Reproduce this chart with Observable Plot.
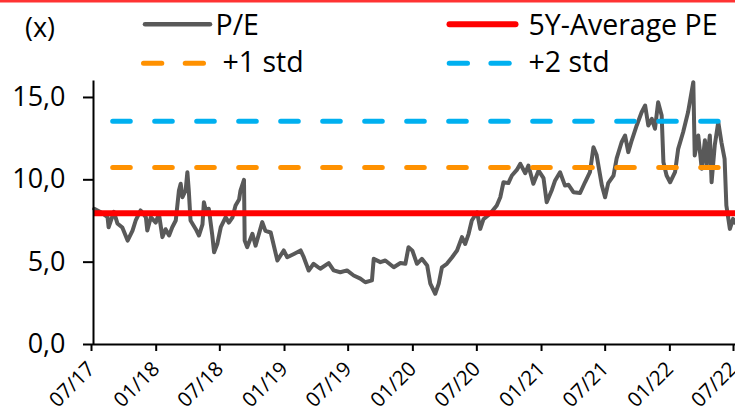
<!DOCTYPE html>
<html>
<head>
<meta charset="utf-8">
<script src="https://cdn.jsdelivr.net/npm/d3@7"></script>
<script src="https://cdn.jsdelivr.net/npm/@observablehq/plot@0.6"></script>
<style>
  html, body { margin: 0; padding: 0; background: #fff; }
  #wrap { position: relative; width: 735px; height: 414px; overflow: hidden; font-family: "Open Sans", sans-serif; }
  #chart { position: absolute; left: 0; top: 76px; }
  #legend { position: absolute; left: 0; top: 0; width: 735px; height: 84px; overflow: visible; }
</style>
</head>
<body>
<div id="wrap">
  <div id="chart"></div>
  <svg id="legend" width="735" height="84"></svg>
</div>
<script>
// ---------------- DATA ----------------
const peDates = [
  "2017-07-03","2017-07-22","2017-08-10","2017-08-13","2017-08-28","2017-09-07","2017-09-21","2017-10-06","2017-10-20","2017-10-29",
  "2017-11-12","2017-11-27","2017-12-01","2017-12-11","2017-12-25","2018-01-03","2018-01-13","2018-01-22","2018-02-01","2018-02-10",
  "2018-02-20","2018-03-01","2018-03-06","2018-03-11","2018-03-20","2018-03-25","2018-03-29","2018-04-03","2018-04-18","2018-04-27",
  "2018-05-07","2018-05-11","2018-05-16","2018-05-25","2018-06-04","2018-06-09","2018-06-18","2018-06-28","2018-07-12","2018-07-21",
  "2018-07-31","2018-08-09","2018-08-19","2018-08-23","2018-09-02","2018-09-04","2018-09-11","2018-09-26","2018-10-05","2018-10-24",
  "2018-11-02","2018-11-17","2018-12-06","2018-12-24","2019-01-03","2019-01-22","2019-02-10","2019-02-19","2019-03-05","2019-03-19",
  "2019-04-07","2019-05-01","2019-05-15","2019-06-03","2019-06-22","2019-07-11","2019-07-30","2019-08-13","2019-09-01","2019-09-06",
  "2019-09-25","2019-10-09","2019-11-02","2019-11-21","2019-12-05","2019-12-14","2019-12-25","2020-01-07","2020-01-21","2020-02-05",
  "2020-02-14","2020-02-28","2020-03-09","2020-03-18","2020-04-01","2020-04-16","2020-04-30","2020-05-14","2020-05-23","2020-06-02",
  "2020-06-11","2020-06-26","2020-07-05","2020-07-14","2020-08-02","2020-08-21","2020-08-31","2020-09-09","2020-09-23","2020-10-03",
  "2020-10-17","2020-10-27","2020-11-10","2020-11-19","2020-12-03","2020-12-18","2021-01-01","2021-01-10","2021-01-25","2021-02-03",
  "2021-02-17","2021-03-03","2021-03-13","2021-03-27","2021-04-15","2021-04-29","2021-05-13","2021-05-23","2021-06-01","2021-06-16",
  "2021-06-25","2021-07-04","2021-07-19","2021-07-28","2021-08-11","2021-08-21","2021-08-30","2021-09-09","2021-09-23","2021-10-07",
  "2021-10-17","2021-10-26","2021-11-05","2021-11-14","2021-11-23","2021-12-03","2021-12-08","2021-12-17","2021-12-27","2022-01-10",
  "2022-01-19","2022-02-02","2022-02-16","2022-02-26","2022-03-03","2022-03-07","2022-03-17","2022-03-27","2022-04-05","2022-04-10",
  "2022-04-19","2022-04-24","2022-05-03","2022-05-13","2022-05-22","2022-05-31","2022-06-05","2022-06-15","2022-06-24","2022-06-29"
];
const peValues = [
  8.24,8.03,7.73,7.12,8.05,7.35,7.10,6.31,6.92,7.53,
  8.14,7.73,6.92,7.73,7.40,7.94,6.52,7.00,6.62,7.12,
  7.53,9.35,9.76,8.94,9.35,10.46,9.35,7.53,7.00,6.62,
  7.30,8.64,8.20,8.24,6.60,5.60,6.10,7.12,7.73,7.40,
  7.70,8.44,8.80,9.35,10.00,6.31,5.91,6.72,6.00,7.43,
  6.90,6.80,5.10,5.71,5.30,5.50,5.71,5.30,4.49,4.90,
  4.60,4.94,4.50,4.39,4.50,4.19,4.00,3.78,3.89,5.20,
  5.00,5.10,4.69,4.95,4.90,5.91,5.70,4.90,5.20,4.80,
  3.69,3.08,3.70,4.69,4.90,5.30,5.71,6.52,6.10,6.72,
  7.53,8.03,7.02,7.60,7.94,8.44,8.94,9.85,9.80,10.26,
  10.60,10.97,10.40,10.87,9.76,10.56,10.10,8.64,9.40,9.96,
  10.46,9.65,9.70,9.25,9.20,9.85,10.46,11.98,11.50,9.65,
  8.94,9.80,10.26,11.30,12.28,12.69,11.68,12.40,13.30,14.10,
  14.51,13.30,13.70,13.10,14.71,13.90,11.07,10.26,9.85,10.46,
  11.88,12.89,14.10,15.32,15.93,11.48,12.69,10.67,12.40,10.90,
  12.69,9.85,12.10,13.50,12.28,11.27,8.44,7.02,7.63,7.40
];
const seriesNames = ["P/E", "5Y-Average PE", "+1 std", "+2 std"];
const seriesColors = ["#595959", "#ff0000", "#ff9100", "#00b0f0"];
const avgPE = 7.97;
const std1 = 10.75;
const std2 = 13.55;
const bandStart = "2017-08-26";
const bandEnd = "2022-05-14";
const xStart = "2017-07-01";
const xEnd = "2022-07-01";
const xTickDates = ["2017-07-01","2018-01-01","2018-07-01","2019-01-01","2019-07-01","2020-01-01","2020-07-01","2021-01-01","2021-07-01","2022-01-01","2022-07-01"];
const xTickLabels = ["07/17","01/18","07/18","01/19","07/19","01/20","07/20","01/21","07/21","01/22","07/22"];
const yTicks = [0, 5, 10, 15];
const yTickLabels = ["0,0", "5,0", "10,0", "15,0"];
const unitLabel = "(x)";

// ---------------- BUILD ----------------
const parse = d3.utcParse("%Y-%m-%d");
const pe = peDates.map((d, i) => ({date: parse(d), value: peValues[i]}));
const stdRows = [
  {y: std1, x1: parse(bandStart), x2: parse(bandEnd), color: seriesColors[2]},
  {y: std2, x1: parse(bandStart), x2: parse(bandEnd), color: seriesColors[3]}
];
const avgRows = [{y: avgPE, x1: parse(xStart), x2: parse(xEnd)}];
const tickDates = xTickDates.map(parse);
const tickLabelOf = new Map(tickDates.map((d, i) => [+d, xTickLabels[i]]));
const yLabelOf = new Map(yTicks.map((v, i) => [v, yTickLabels[i]]));

const chart = Plot.plot({
  width: 735,
  height: 338,
  marginLeft: 93,
  marginRight: 0,
  marginTop: 4.5,
  marginBottom: 70,
  style: {fontFamily: "'Open Sans', sans-serif", fontSize: "27px", color: "#000", background: "transparent", overflow: "visible"},
  x: {type: "utc", domain: [parse(xStart), parse(xEnd)]},
  y: {domain: [0, 16]},
  marks: [
    Plot.lineY(pe, {x: "date", y: "value", stroke: seriesColors[0], strokeWidth: 4, strokeLinejoin: "round"}),
    Plot.ruleY(stdRows, {y: "y", x1: "x1", x2: "x2", stroke: "color", strokeWidth: 5, strokeDasharray: "17.6,24.4", strokeLinecap: "round"}),
    Plot.ruleY(avgRows, {y: "y", x1: "x1", x2: "x2", stroke: seriesColors[1], strokeWidth: 6}),
    Plot.ruleX([parse(xStart)], {y1: 0, y2: 16, stroke: "#000", strokeWidth: 2}),
    Plot.ruleY([0], {stroke: "#000", strokeWidth: 2}),
    Plot.axisY({ticks: yTicks, tickSize: 10, tickPadding: 18, strokeWidth: 2, stroke: "#000", fill: "#000",
      tickFormat: v => yLabelOf.get(v), fontSize: 27}),
    Plot.axisX({ticks: tickDates, tickSize: 7, tickPadding: 14, tickRotate: -45, strokeWidth: 2, stroke: "#000", fill: "#000",
      tickFormat: d => tickLabelOf.get(+d), fontSize: 20.5, dx: -2})
  ]
});
document.getElementById("chart").appendChild(chart);

// ---------------- LEGEND ----------------
const lg = d3.select("#legend");
lg.append("rect").attr("x", 0).attr("y", 0).attr("width", 735).attr("height", 2.5).attr("fill", "#ff3333");
const font = "'Open Sans', sans-serif";
lg.append("text").attr("x", 25).attr("y", 37).attr("font-family", font).attr("font-size", 27).text(unitLabel);
const legendItems = [
  {x1: 145, x2: 210, y: 24.3, tx: 215.5, ty: 35, dash: null, w: 4.5},
  {x1: 449.5, x2: 515.5, y: 24.3, tx: 528.5, ty: 35, dash: null, w: 6},
  {x1: 143.5, x2: 203.5, y: 63.3, tx: 222.5, ty: 72, dash: "18.3,23.4", w: 5},
  {x1: 449.2, x2: 509.2, y: 63.3, tx: 528.5, ty: 72, dash: "18.3,23.4", w: 5}
];
legendItems.forEach((it, i) => {
  const ln = lg.append("line").attr("x1", it.x1).attr("x2", it.x2).attr("y1", it.y).attr("y2", it.y)
    .attr("stroke", seriesColors[i]).attr("stroke-width", it.w).attr("stroke-linecap", "round");
  if (it.dash) ln.attr("stroke-dasharray", it.dash);
  lg.append("text").attr("x", it.tx).attr("y", it.ty).attr("font-family", font).attr("font-size", 28.5).text(seriesNames[i]);
});
</script>
</body>
</html>
